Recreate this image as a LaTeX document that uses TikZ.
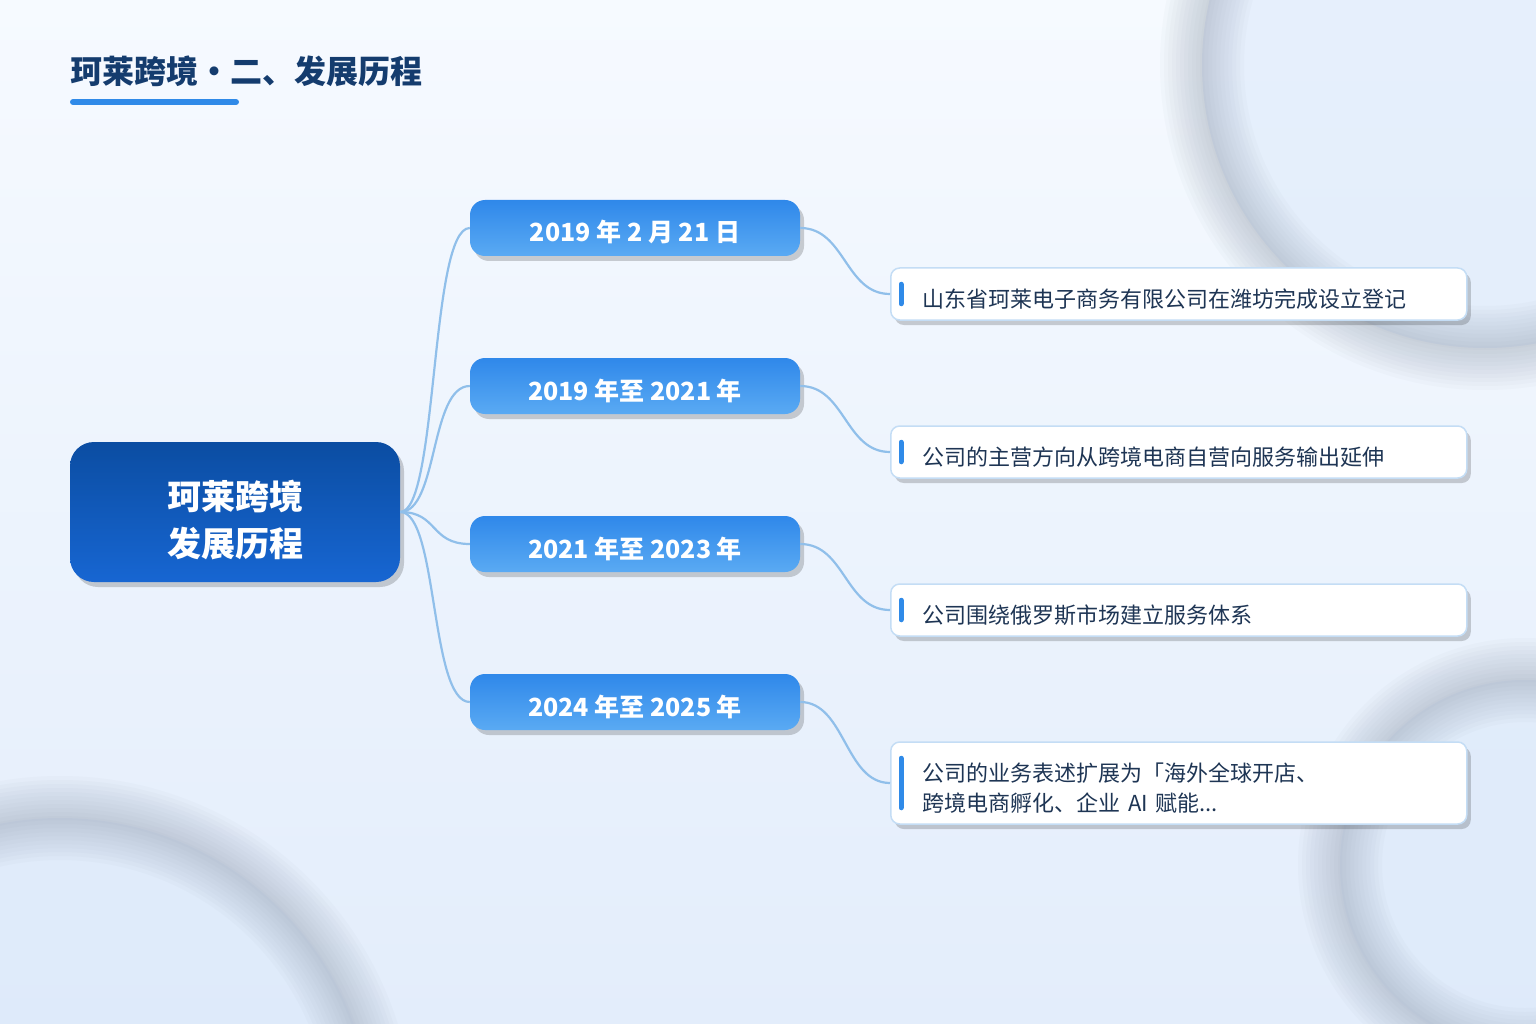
\documentclass[tikz,border=0pt]{standalone}
\usepackage{fontspec}
\setmainfont{Noto Sans CJK SC}
\usetikzlibrary{shadows}
\usetikzlibrary{positioning}

\definecolor{bgTop}{HTML}{F6FAFF}
\definecolor{bgBot}{HTML}{E3EDFB}
\definecolor{ringGray}{HTML}{8A96A8}
\definecolor{ringIn}{HTML}{DCE9FA}
\definecolor{titleBlue}{HTML}{143C6E}
\definecolor{barBlue}{HTML}{2F8AE8}
\definecolor{rootTop}{HTML}{0B4DA2}
\definecolor{rootBot}{HTML}{1766D2}
\definecolor{dateTop}{HTML}{2F88EA}
\definecolor{dateBot}{HTML}{5AAAF3}
\definecolor{linkBlue}{HTML}{90BFEA}
\definecolor{eventLine}{HTML}{C4DDF5}
\definecolor{eventText}{HTML}{1E3554}

\begin{document}
\begin{tikzpicture}[x=1pt, y=-1pt,
        softshadow/.style={drop shadow={shadow xshift=4pt, shadow yshift=-5pt, fill=black, opacity=.18}},
        rootbox/.style={rectangle, rounded corners=24pt, minimum width=330pt, minimum height=140pt,
            top color=rootTop, bottom color=rootBot, text=white, align=center,
            text height=88pt, text depth=0pt,
            font=\bfseries\fontsize{34}{47}\selectfont, softshadow},
        datebox/.style={rectangle, rounded corners=15pt, minimum width=330pt, minimum height=56pt,
            top color=dateTop, bottom color=dateBot, text=white, text height=28pt, text depth=0pt,
            font=\bfseries\fontsize{25}{30}\selectfont, softshadow},
        eventbox/.style={rectangle, rounded corners=9pt, draw=eventLine, line width=1.5pt, fill=white,
            text width=512pt, inner xsep=32pt, align=left, minimum height=52pt, anchor=west,
            text height=26pt, text depth=0pt,
            text=eventText, font=\fontsize{22}{30}\selectfont, softshadow},
        link/.style={draw=linkBlue, line width=2.2pt},
        accent/.style={draw=barBlue, line width=5pt, line cap=round}]

        % background and soft rings
        \fill[top color=bgTop, bottom color=bgBot] (0,0) rectangle (1536,1024);
        \useasboundingbox (0,0) rectangle (1536,1024);
        \begin{scope}
            \clip (0,0) rectangle (1536,1024);
            \foreach \cx/\cy/\r in {1485/65/283, 60/1130/312, 1525/865/185} {
                \fill[ringIn, opacity=.6] (\cx,\cy) circle (\r);
                \foreach \w in {84,76,...,4}
                    \draw[ringGray, line width=\w pt, opacity=.038] (\cx,\cy) circle (\r);
            }
        \end{scope}

        % title
        \node[anchor=west, inner sep=0pt, text=titleBlue, font=\bfseries\fontsize{32}{36}\selectfont] (title) at (70,71) {珂莱跨境・二、发展历程};
        \draw[barBlue, line width=6pt, line cap=round] (73,102) -- (236,102);

        % nodes
        \node[rootbox] (root) at (235,512) {珂莱跨境\\发展历程};

        \node[datebox] (d1) at (635,228) {2019 年 2 月 21 日};
        \node[datebox] (d2) at (635,386) {2019 年至 2021 年};
        \node[datebox] (d3) at (635,544) {2021 年至 2023 年};
        \node[datebox] (d4) at (635,702) {2024 年至 2025 年};

        \node[eventbox] (e1) at (890,294) {山东省珂莱电子商务有限公司在潍坊完成设立登记};
        \node[eventbox] (e2) at (890,452) {公司的主营方向从跨境电商自营向服务输出延伸};
        \node[eventbox] (e3) at (890,610) {公司围绕俄罗斯市场建立服务体系};
        \node[eventbox, minimum height=82pt, text height=20pt, text depth=24pt] (e4) at (890,783) {公司的业务表述扩展为「海外全球开店、\\跨境电商孵化、企业 AI 赋能...};

        % connectors
        \foreach \n in {1,...,4} {
            \draw[link] (root.east) .. controls +(38,0) and +(-40,0) .. (d\n.west);
            \draw[link] (d\n.east) .. controls +(45,0) and +(-45,0) .. (e\n.west);
            \draw[accent] ([xshift=11pt,yshift=-17pt]e\n.north west) -- ([xshift=11pt,yshift=17pt]e\n.south west);
        }
\end{tikzpicture}
\end{document}
